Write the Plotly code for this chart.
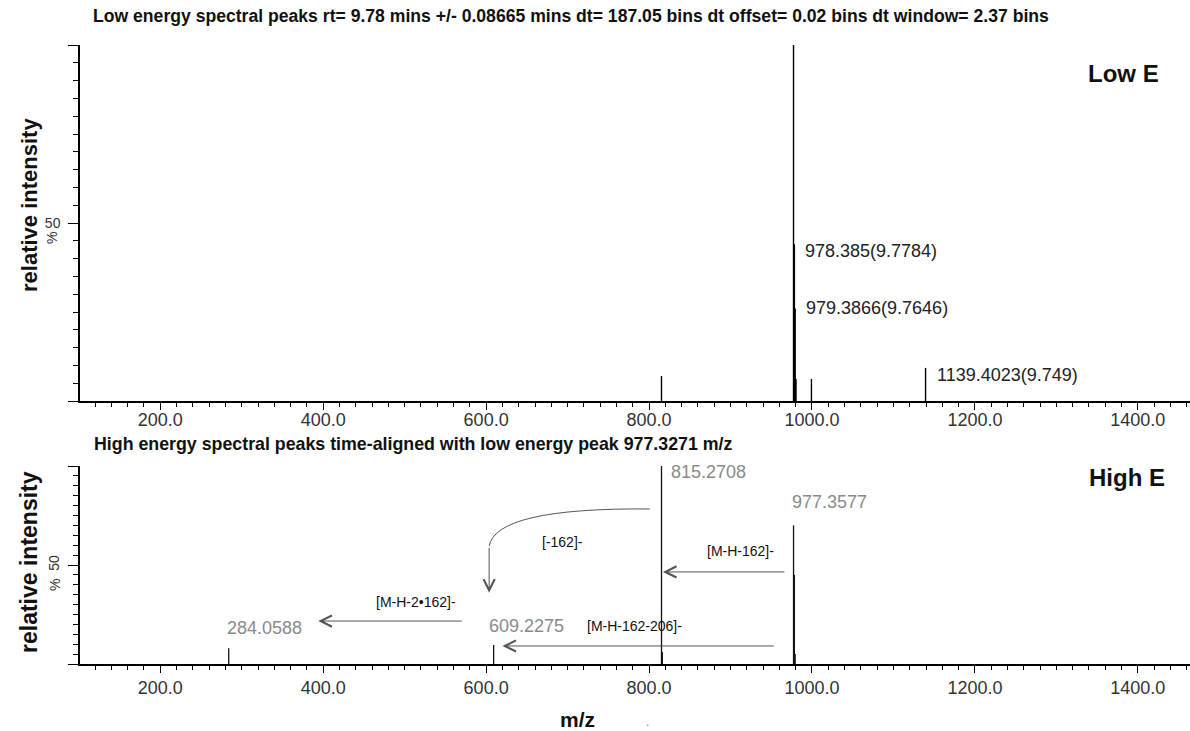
import plotly.graph_objects as go

# ---------------- data ----------------
low_mz = [815.27, 977.33, 978.385, 979.3866, 980.39, 999.31, 1139.4023]
low_int = [7.0, 100.0, 44.0, 26.0, 6.2, 6.2, 9.3]

high_mz = [284.0588, 609.2275, 815.2708, 816.27, 977.3577, 978.36, 979.36]
high_int = [8.0, 9.6, 100.0, 6.0, 70.0, 45.0, 5.0]

low_label_text = ["978.385(9.7784)", "979.3866(9.7646)", "1139.4023(9.749)"]
low_label_mz = [989.0, 990.0, 1151.0]
low_label_y = [42.0, 26.0, 7.3]

high_label_text = ["815.2708", "977.3577", "609.2275", "284.0588"]
high_label_mz = [873.0, 1021.0, 650.0, 328.0]
high_label_y = [97.0, 82.0, 19.0, 18.0]

# fragment-loss annotations: text, text position, arrow from -> to (m/z), arrow level (%)
loss_text = ["[M-H-162]-", "[M-H-162-206]-", "[M-H-2\u2022162]-"]
loss_text_mz = [912.0, 782.0, 514.0]
loss_text_y = [57.0, 19.0, 31.5]
loss_from_mz = [968.0, 955.0, 572.0]
loss_to_mz = [817.0, 620.0, 394.0]
loss_level = [46.5, 9.1, 21.7]

x_tick_vals = [200, 400, 600, 800, 1000, 1200, 1400]
x_tick_text = ["200.0", "400.0", "600.0", "800.0", "1000.0", "1200.0", "1400.0"]

W, H = 1190, 731
FONT = "Arial, Liberation Sans, sans-serif"


def sticks(mz, inten):
    xs, ys = [], []
    for m, h in zip(mz, inten):
        xs += [m, m, None]
        ys += [0, h, None]
    return xs, ys


def px(x):
    return x / W


def py(y):
    return 1 - y / H


fig = go.Figure()
lx, ly = sticks(low_mz, low_int)
fig.add_trace(go.Scatter(x=lx, y=ly, mode="lines", line=dict(color="black", width=1.4),
                         xaxis="x", yaxis="y", hoverinfo="skip", showlegend=False))
hx, hy = sticks(high_mz, high_int)
fig.add_trace(go.Scatter(x=hx, y=hy, mode="lines", line=dict(color="#111111", width=1.3),
                         xaxis="x2", yaxis="y2", hoverinfo="skip", showlegend=False))

xr = [101.5, 1464]
common_x = dict(range=xr, domain=[80 / W, 1.0], showline=True, linecolor="black", linewidth=1.5,
                ticks="outside", ticklen=7, tickwidth=1.3, tickcolor="black",
                tickmode="array", tickvals=x_tick_vals, ticktext=x_tick_text,
                tickfont=dict(family=FONT, size=18, color="#333333"),
                minor=dict(dtick=20, tick0=0, ticks="outside", ticklen=4, tickcolor="black", tickwidth=1.2),
                showgrid=False, zeroline=False, fixedrange=True)
common_y = dict(range=[0, 100], showline=True, linecolor="black", linewidth=1.5,
                ticks="outside", ticklen=10, tickwidth=1.3, tickcolor="black",
                tickmode="array", tickvals=[0, 50, 100], ticktext=["", "50", ""],
                tickfont=dict(family=FONT, size=14, color="#333333"),
                minor=dict(dtick=5, tick0=0, ticks="outside", ticklen=5, tickcolor="black", tickwidth=1.2),
                showgrid=False, zeroline=False, fixedrange=True)

fig.update_layout(
    width=W, height=H, margin=dict(l=0, r=0, t=0, b=0),
    paper_bgcolor="white", plot_bgcolor="white",
    xaxis=dict(common_x, anchor="y", ticklabelstandoff=-5),
    yaxis=dict(common_y, anchor="x", domain=[py(401), py(45)], ticklabelstandoff=5),
    xaxis2=dict(common_x, anchor="y2"),
    yaxis2=dict(common_y, anchor="x2", domain=[py(664), py(466)], tickangle=-90, ticklabelstandoff=4),
    showlegend=False,
)

ann = []


def paper_text(text, x, y, size, color="#111", angle=0, xanchor="center"):
    ann.append(dict(text=text, x=px(x), y=py(y), xref="paper", yref="paper",
                    xanchor=xanchor, yanchor="middle", textangle=angle, showarrow=False,
                    font=dict(family=FONT, size=size, color=color)))


paper_text("<b>Low energy spectral peaks rt= 9.78 mins +/- 0.08665 mins dt= 187.05 bins dt offset= 0.02 bins dt window= 2.37 bins</b>",
           91, 16, 17.6, xanchor="left")
paper_text("<b>High energy spectral peaks time-aligned with low energy peak 977.3271 m/z</b>",
           92, 444, 17.8, xanchor="left")
paper_text("<b>Low E</b>", 1123, 73, 24)
paper_text("<b>High E</b>", 1127, 477, 24)
paper_text("<b>relative intensity</b>", 29, 205, 22, angle=-90)
paper_text("<b>relative intensity</b>", 29, 562, 23, angle=-90)
paper_text("%", 52, 238, 14, color="#333", angle=-90)
paper_text("%", 55, 585, 14, color="#333", angle=-90)
paper_text("<b>m/z</b>", 577, 719, 21)
paper_text(".", 647, 722, 12, color="#888")

# peak labels
for t, m, v in zip(low_label_text, low_label_mz, low_label_y):
    ann.append(dict(text=t, x=m, y=v, xref="x", yref="y", xanchor="left", yanchor="middle",
                    showarrow=False, font=dict(family=FONT, size=18, color="#222")))
for t, m, v in zip(high_label_text, high_label_mz, high_label_y):
    ann.append(dict(text=t, x=m, y=v, xref="x2", yref="y2", xanchor="center", yanchor="middle",
                    showarrow=False, font=dict(family=FONT, size=18, color="#8a8a8a")))

# loss arrows
for t, tm, tv, fm, tom, lv in zip(loss_text, loss_text_mz, loss_text_y, loss_from_mz, loss_to_mz, loss_level):
    ann.append(dict(text=t, x=tm, y=tv, xref="x2", yref="y2", showarrow=False,
                    font=dict(family=FONT, size=14, color="#111")))
    ann.append(dict(text="", x=tom, y=lv, ax=fm, ay=lv, xref="x2", yref="y2", axref="x2", ayref="y2",
                    showarrow=True, arrowhead=5, arrowsize=2.2, arrowwidth=1, arrowcolor="#555"))
# curved "-162" arrow
ann.append(dict(text="[-162]-", x=694, y=61.5, xref="x2", yref="y2", showarrow=False,
                font=dict(family=FONT, size=14, color="#111")))
ann.append(dict(text="", x=603.7, y=36, ax=603.7, ay=59.5, xref="x2", yref="y2", axref="x2", ayref="y2",
                showarrow=True, arrowhead=5, arrowsize=2.2, arrowwidth=1, arrowcolor="#555"))
fig.update_layout(annotations=ann)
fig.add_shape(type="path", path="M 801,78.3 Q 612,79 603.7,59.5", xref="x2", yref="y2",
              line=dict(color="#555", width=1))

fig.write_html("out.html")
